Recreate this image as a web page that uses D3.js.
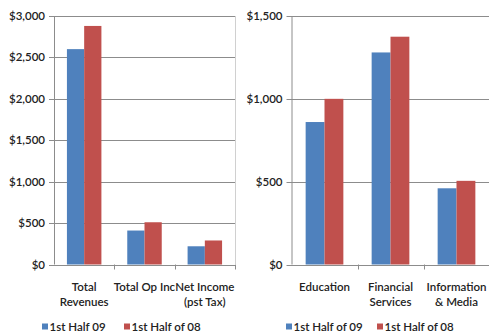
<!DOCTYPE html>
<html>
<head>
<meta charset="utf-8">
<script src="https://cdn.jsdelivr.net/npm/d3@7"></script>
<style>
  html, body { margin: 0; padding: 0; background: #fff; }
  svg { display: block; }
  text { font-family: Lato, "Open Sans", sans-serif; fill: #222; }
</style>
</head>
<body>
<svg id="chart" width="489" height="336"></svg>
<script>
// Company totals (USD)
const totalsCategories = [["Total", "Revenues"], ["Total Op Inc"], ["Net Income", "(pst Tax)"]];
const totals09 = [2600, 410, 220];
const totals08 = [2880, 510, 290];
const totalsTicks = [0, 500, 1000, 1500, 2000, 2500, 3000];
const totalsLegend = ["1st Half 09", "1st Half of 08"];

// Segment results (USD)
const segmentCategories = [["Education"], ["Financial", "Services"], ["Information", "& Media"]];
const segment09 = [860, 1280, 460];
const segment08 = [1000, 1375, 505];
const segmentTicks = [0, 500, 1000, 1500];
const segmentLegend = ["1st Half of 09", "1st Half of 08"];

const colors = ["#4F81BD", "#C0504D"];
const fmt = d => "$" + d3.format(",")(d);
const svg = d3.select("#chart");

function panel(opts) {
  const { left, right, top, bottom, cats, s1, s2, ticks, legend, legendX, border } = opts;
  const g = svg.append("g");
  const y = d3.scaleLinear().domain([0, d3.max(ticks)]).range([bottom, top]);
  const x0 = d3.scaleBand().domain(d3.range(cats.length)).range([left, right])
    .paddingInner(1.5 / 3.5).paddingOuter(0.75 / 3.5);
  const x1 = d3.scaleBand().domain([0, 1]).range([0, x0.bandwidth()]);

  // gridlines with short ticks to the left of the axis
  g.append("g").selectAll("line").data(ticks.filter(t => t > 0)).join("line")
    .attr("x1", left - 5).attr("x2", right)
    .attr("y1", d => Math.round(y(d)) + 0.5).attr("y2", d => Math.round(y(d)) + 0.5)
    .attr("stroke", "#8c8c8c").attr("stroke-width", 1);

  // y tick labels
  g.append("g").selectAll("text").data(ticks).join("text")
    .attr("x", left - 9).attr("y", d => y(d)).attr("dy", "0.35em")
    .attr("text-anchor", "end").attr("font-size", 11.5).attr("font-weight", 600)
    .text(fmt);

  // bars
  const series = [s1, s2];
  series.forEach((vals, si) => {
    g.append("g").selectAll("rect").data(vals).join("rect")
      .attr("x", (d, i) => x0(i) + x1(si))
      .attr("width", x1.bandwidth())
      .attr("y", d => y(d))
      .attr("height", d => y(0) - y(d))
      .attr("fill", colors[si]);
  });

  // axes
  g.append("line").attr("x1", left + 0.5).attr("x2", left + 0.5)
    .attr("y1", top).attr("y2", bottom).attr("stroke", "#8c8c8c");
  g.append("line").attr("x1", left - 5).attr("x2", right)
    .attr("y1", Math.round(bottom) + 0.5).attr("y2", Math.round(bottom) + 0.5)
    .attr("stroke", "#8c8c8c");
  const step = (right - left) / cats.length;
  g.append("g").selectAll("line").data(d3.range(1, cats.length + 1)).join("line")
    .attr("x1", i => Math.round(left + i * step) + 0.5).attr("x2", i => Math.round(left + i * step) + 0.5)
    .attr("y1", bottom).attr("y2", bottom + 5).attr("stroke", "#8c8c8c");
  if (border) {
    g.append("line").attr("x1", right + 0.5).attr("x2", right + 0.5)
      .attr("y1", top).attr("y2", bottom).attr("stroke", "#d0d0d0");
  }

  // category labels
  cats.forEach((lines, i) => {
    const t = g.append("text").attr("text-anchor", "middle").attr("font-size", 11.5)
      .attr("font-weight", 600)
      .attr("x", x0(i) + x0.bandwidth() / 2).attr("y", bottom + 26);
    lines.forEach((ln, k) => t.append("tspan")
      .attr("x", x0(i) + x0.bandwidth() / 2).attr("dy", k === 0 ? 0 : 15.5).text(ln));
  });

  // legend
  const lg = g.append("g").attr("transform", `translate(${legendX[0]},327)`);
  legend.forEach((name, i) => {
    const item = lg.append("g").attr("transform", `translate(${legendX[i] - legendX[0]},0)`);
    item.append("rect").attr("x", 0).attr("y", -3.5).attr("width", 6).attr("height", 6).attr("fill", colors[i]);
    item.append("text").attr("x", 7.5).attr("y", 0).attr("dy", "0.35em")
      .attr("font-size", 11.5).attr("font-weight", 600).text(name);
  });
}

panel({ left: 54, right: 235, top: 16, bottom: 264.5, cats: totalsCategories,
  s1: totals09, s2: totals08, ticks: totalsTicks, legend: totalsLegend,
  legendX: [42, 124], border: true });

panel({ left: 291.5, right: 489.5, top: 16, bottom: 264.5, cats: segmentCategories,
  s1: segment09, s2: segment08, ticks: segmentTicks, legend: segmentLegend,
  legendX: [286, 377], border: false });
</script>
</body>
</html>
